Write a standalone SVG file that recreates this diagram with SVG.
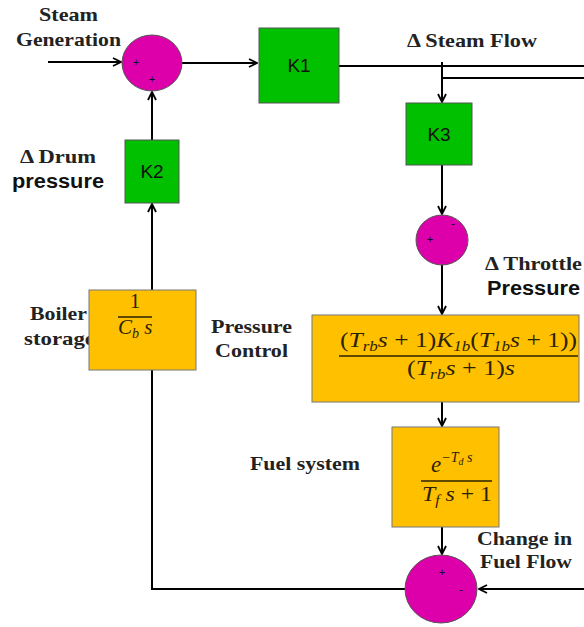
<svg xmlns="http://www.w3.org/2000/svg" width="584" height="627" viewBox="0 0 584 627">
<defs>
<marker id="arr" viewBox="0 0 10 10" markerWidth="10" markerHeight="10" refX="9" refY="5" orient="auto" markerUnits="userSpaceOnUse">
<path d="M1,1 L9,5 L1,9" fill="none" stroke="#000" stroke-width="1.8"/>
</marker>
<style>
.lbl{font-family:"Liberation Serif","Times New Roman",serif;font-weight:bold;font-size:19px;fill:#222}
.lbs{font-family:"Liberation Sans",Arial,sans-serif;font-weight:bold;font-size:20px;fill:#111}
.k{font-family:"Liberation Sans",Arial,sans-serif;font-size:19px;fill:#111;text-anchor:middle}
.m{font-family:"Liberation Serif","DejaVu Serif",serif;font-style:italic;font-size:21px;fill:#2a2200}
.mu{font-family:"Liberation Serif","DejaVu Serif",serif;font-style:normal;font-size:21px;fill:#2a2200}
.sub{font-size:14px}
.sg{font-family:"Liberation Sans",Arial,sans-serif;font-size:11px;fill:#111;text-anchor:middle}
.gr{fill:#00C000;stroke:#555;stroke-width:1}
.yl{fill:#FFC000;stroke:#777;stroke-width:1}
.sum{fill:#DD00AA;stroke:#555;stroke-width:1}
.ln{fill:none;stroke:#000;stroke-width:2}
.fl{stroke:#2a2200;stroke-width:1.3}
</style>
</defs>
<rect width="584" height="627" fill="#fff"/>

<g id="labels">
<text class="lbl" x="39" y="21" textLength="59" lengthAdjust="spacingAndGlyphs">Steam</text>
<text class="lbl" x="16" y="46" textLength="105" lengthAdjust="spacingAndGlyphs">Generation</text>
<text class="lbl" x="407" y="47" textLength="130" lengthAdjust="spacingAndGlyphs">Δ Steam Flow</text>
<text class="lbl" x="20" y="163" textLength="76" lengthAdjust="spacingAndGlyphs">Δ Drum</text>
<text class="lbs" x="12" y="188" textLength="92" lengthAdjust="spacingAndGlyphs">pressure</text>
<text class="lbl" x="485" y="270" textLength="97" lengthAdjust="spacingAndGlyphs">Δ Throttle</text>
<text class="lbs" x="487" y="295" textLength="93" lengthAdjust="spacingAndGlyphs">Pressure</text>
<text class="lbl" x="30" y="320" textLength="57" lengthAdjust="spacingAndGlyphs">Boiler</text>
<text class="lbl" x="24" y="345" textLength="71" lengthAdjust="spacingAndGlyphs">storage</text>
<text class="lbl" x="211" y="333" textLength="81" lengthAdjust="spacingAndGlyphs">Pressure</text>
<text class="lbl" x="215" y="357" textLength="73" lengthAdjust="spacingAndGlyphs">Control</text>
<text class="lbl" x="250" y="470" textLength="110" lengthAdjust="spacingAndGlyphs">Fuel system</text>
<text class="lbl" x="477" y="545" textLength="95" lengthAdjust="spacingAndGlyphs">Change in</text>
<text class="lbl" x="480" y="568" textLength="92" lengthAdjust="spacingAndGlyphs">Fuel Flow</text>
</g>

<g id="connectors">
<line class="ln" x1="48" y1="62" x2="121" y2="62" marker-end="url(#arr)"/>
<line class="ln" x1="182" y1="63" x2="257" y2="63" marker-end="url(#arr)"/>
<line class="ln" x1="339" y1="66" x2="584" y2="66"/>
<line class="ln" x1="442" y1="78" x2="584" y2="78"/>
<line class="ln" x1="442" y1="62" x2="442" y2="102" marker-end="url(#arr)"/>
<line class="ln" x1="442" y1="165" x2="442" y2="214" marker-end="url(#arr)"/>
<line class="ln" x1="442" y1="265" x2="442" y2="314" marker-end="url(#arr)"/>
<line class="ln" x1="442" y1="402" x2="442" y2="426" marker-end="url(#arr)"/>
<line class="ln" x1="442" y1="527" x2="442" y2="554" marker-end="url(#arr)"/>
<line class="ln" x1="584" y1="589" x2="479" y2="589" marker-end="url(#arr)"/>
<polyline class="ln" points="405,589 152,589 152,370"/>
<line class="ln" x1="152" y1="290" x2="152" y2="204" marker-end="url(#arr)"/>
<line class="ln" x1="152" y1="140" x2="152" y2="92" marker-end="url(#arr)"/>
</g>

<g id="sum1">
<ellipse class="sum" cx="152" cy="63" rx="30" ry="28"/>
<text class="sg" x="136" y="66">+</text>
<text class="sg" x="152" y="83">+</text>
</g>

<g id="k1">
<rect class="gr" x="259" y="28" width="80" height="75"/>
<text class="k" x="299" y="72">K1</text>
</g>

<g id="k3">
<rect class="gr" x="406" y="103" width="66" height="62"/>
<text class="k" x="439" y="141">K3</text>
</g>

<g id="k2">
<rect class="gr" x="125" y="140" width="54" height="63"/>
<text class="k" x="152" y="178">K2</text>
</g>

<g id="sum2">
<ellipse class="sum" cx="442" cy="240" rx="26" ry="25"/>
<text class="sg" x="453" y="227">-</text>
<text class="sg" x="430" y="243">+</text>
</g>

<g id="boiler">
<rect class="yl" x="89" y="290" width="107" height="80"/>
<text class="mu" x="135" y="308" text-anchor="middle">1</text>
<line class="fl" x1="118" y1="317" x2="152" y2="317"/>
<text class="m" x="118" y="334">C<tspan class="sub" dy="4">b</tspan><tspan dy="-4"> s</tspan></text>
</g>

<g id="pressure-control">
<rect class="yl" x="312" y="315" width="267" height="87"/>
<text class="m" x="340" y="347" textLength="237" lengthAdjust="spacingAndGlyphs"><tspan class="mu">(</tspan>T<tspan class="sub" dy="4">rb</tspan><tspan dy="-4">s </tspan><tspan class="mu">+ 1)</tspan>K<tspan class="sub" dy="4">1b</tspan><tspan class="mu" dy="-4">(</tspan>T<tspan class="sub" dy="4">1b</tspan><tspan dy="-4">s </tspan><tspan class="mu">+ 1))</tspan></text>
<line class="fl" x1="339" y1="356" x2="578" y2="356"/>
<text class="m" x="407" y="375" textLength="108" lengthAdjust="spacingAndGlyphs"><tspan class="mu">(</tspan>T<tspan class="sub" dy="4">rb</tspan><tspan dy="-4">s </tspan><tspan class="mu">+ 1)</tspan>s</text>
</g>

<g id="fuel-system">
<rect class="yl" x="392" y="427" width="107" height="100"/>
<text class="m" x="431" y="472" style="font-size:23px">e<tspan class="sub" dy="-10">−T</tspan><tspan style="font-size:10px" dy="3">d</tspan><tspan class="sub" dy="-3"> s</tspan></text>
<line class="fl" x1="421" y1="481" x2="492" y2="481"/>
<text class="m" x="422" y="501" textLength="70" lengthAdjust="spacingAndGlyphs">T<tspan class="sub" dy="4">f</tspan><tspan dy="-4"> s </tspan><tspan class="mu">+ 1</tspan></text>
</g>

<g id="sum3">
<ellipse class="sum" cx="441" cy="589" rx="36" ry="34"/>
<text class="sg" x="442" y="576">+</text>
<text class="sg" x="461" y="593">-</text>
</g>
</svg>
